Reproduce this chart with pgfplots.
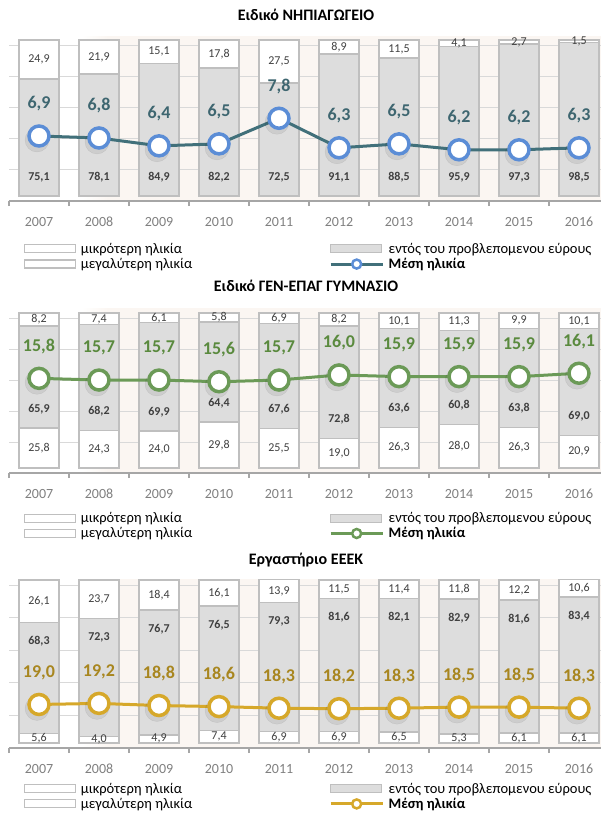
\documentclass[border=0pt]{standalone}
\usepackage{pgfplots}
\pgfplotsset{compat=1.18}
\usepackage{pgfplotstable}
\usepackage{fontspec}
\setmainfont{Carlito}

\definecolor{barfill}{HTML}{DDDDDD}
\definecolor{barline}{HTML}{BFBFBF}
\definecolor{gridc}{HTML}{D9D9D9}
\definecolor{axisc}{HTML}{A6A6A6}
\definecolor{yearc}{HTML}{7F7F7F}
\definecolor{lblc}{HTML}{404040}
\definecolor{beige}{HTML}{FBF6F2}
\definecolor{tealL}{HTML}{41707A}
\definecolor{tealM}{HTML}{5B8DD6}
\definecolor{tealT}{HTML}{3E6670}
\definecolor{grnL}{HTML}{6B9A57}
\definecolor{grnT}{HTML}{5A8A3E}
\definecolor{gldL}{HTML}{D6A82A}
\definecolor{gldT}{HTML}{A8861F}

\newcommand{\fs}[1]{\fontsize{#1bp}{#1bp}\selectfont}

% x: year index, b: bottom white, g: within range, t: top white, m: mean age
\pgfplotstableread{
x b g t m
0 0 75.1 24.9 6.9
1 0 78.1 21.9 6.8
2 0 84.9 15.1 6.4
3 0 82.2 17.8 6.5
4 0 72.5 27.5 7.8
5 0 91.1 8.9 6.3
6 0 88.5 11.5 6.5
7 0 95.9 4.1 6.2
8 0 97.3 2.7 6.2
9 0 98.5 1.5 6.3
}\tA
\pgfplotstableread{
x b g t m
0 25.8 65.9 8.2 15.8
1 24.3 68.2 7.4 15.7
2 24.0 69.9 6.1 15.7
3 29.8 64.4 5.8 15.6
4 25.5 67.6 6.9 15.7
5 19.0 72.8 8.2 16.0
6 26.3 63.6 10.1 15.9
7 28.0 60.8 11.3 15.9
8 26.3 63.8 9.9 15.9
9 20.9 69.0 10.1 16.1
}\tB
\pgfplotstableread{
x b g t m
0 5.6 68.3 26.1 19.0
1 4.0 72.3 23.7 19.2
2 4.9 76.7 18.4 18.8
3 7.4 76.5 16.1 18.6
4 6.9 79.3 13.9 18.3
5 6.9 81.6 11.5 18.2
6 6.5 82.1 11.4 18.3
7 5.3 82.9 11.8 18.5
8 6.1 81.6 12.2 18.5
9 6.1 83.4 10.6 18.3
}\tC

\pgfplotsset{
  /pgf/number format/.cd, use comma, fixed, fixed zerofill, precision=1, assume math mode=true,
  /pgfplots/.cd,
  myleg/.style={legend columns=1, legend cell align=left,
    legend style={draw=none, fill=none, inner sep=0pt, anchor=north west, font=\fs{14.5},
      nodes={inner sep=1.5bp}, row sep=0.5bp,
      /tikz/every odd column/.append style={column sep=3bp}}},
  panelbars/.style={
    scale only axis, width=600bp, clip=false,
    xmin=-0.5, xmax=9.5, ymin=-3.2, ymax=96.8,
    ybar stacked, bar width=40bp,
    axis x line*=bottom, axis y line*=left,
    y axis line style={draw=none},
    x axis line style={draw=axisc, line width=1.2bp, -},
    xtick={-0.5,0.5,...,9.5}, x tick label as interval,
    xticklabels={2007,2008,2009,2010,2011,2012,2013,2014,2015,2016},
    xticklabel style={font=\fs{14}, text=yearc, anchor=center, yshift=-16bp},
    xtick style={draw=axisc, line width=1.2bp},
    tick align=outside, major tick length=5bp,
    ytick={16.8,36.8,56.8,76.8,96.8}, yticklabels={}, ytick style={draw=none},
    ymajorgrids, major grid style={draw=gridc, line width=0.9bp},
    myleg,
  },
  lblax/.style={scale only axis, width=600bp, xmin=-0.5, xmax=9.5, ymin=-3.2, ymax=96.8,
    hide axis, clip=false},
  greybar/.style={fill=barfill, draw=barline, line width=1.5bp, forget plot},
  whitebar/.style={fill=white, draw=barline, line width=1.5bp, forget plot},
  seglbl/.style={draw=none, mark=none, nodes near coords, point meta=explicit,
    every node near coord/.append style={font=\fs{12}, text=lblc, anchor=center}},
  boldlbl/.style={draw=none, mark=none, nodes near coords, point meta=explicit,
    every node near coord/.append style={font=\bfseries\fs{12}, text=lblc, anchor=center, yshift=#1}},
  barleg/.style={legend image code/.code={\draw[##1] (0bp,-4bp) rectangle (51bp,4bp);}},
  lineleg/.style={legend image code/.code={%
    \draw[##1, mark=none] (0bp,0bp) -- (52bp,0bp);
    \draw[##1] plot coordinates {(26bp,0bp)};}},
  lineax/.style={scale only axis, width=600bp, xmin=-0.5, xmax=9.5, hide axis, clip=false, myleg},
  shadowplot/.style={only marks, mark=*, mark size=12bp, forget plot,
    mark options={draw=none, fill=black, opacity=0.07, xshift=-2bp, yshift=-4bp}},
  meanlbl/.style={nodes near coords, point meta=explicit, forget plot,
    every node near coord/.append style={font=\bfseries\fs{18}, text=#1, anchor=center, yshift=32bp}},
}

\begin{document}
\begin{tikzpicture}
\useasboundingbox (0,0) rectangle (601bp,-816bp);
% plot-area tint
\shade[left color=white, right color=beige] (82bp,-36bp) rectangle (108bp,-201bp);
\fill[beige] (108bp,-36bp) rectangle (601bp,-201bp);
\shade[left color=white, right color=beige] (82bp,-308bp) rectangle (108bp,-473bp);
\fill[beige] (108bp,-308bp) rectangle (601bp,-473bp);
\shade[left color=white, right color=beige] (82bp,-579bp) rectangle (108bp,-748bp);
\fill[beige] (108bp,-579bp) rectangle (601bp,-748bp);

\node[font=\bfseries\fs{16}, anchor=center] at (306bp,-15bp) {Ειδικό ΝΗΠΙΑΓΩΓΕΙΟ};
\node[font=\bfseries\fs{16}, anchor=center] at (306bp,-286bp) {Ειδικό ΓΕΝ-ΕΠΑΓ ΓΥΜΝΑΣΙΟ};
\node[font=\bfseries\fs{16}, anchor=center] at (306bp,-560bp) {Εργαστήριο ΕΕΕΚ};

% ---------------- Panel 1 ----------------
\begin{axis}[panelbars, at={(9bp,-201bp)}, anchor=south west, height=156bp,
  legend style={at={(axis description cs:0.025,-0.258)}}]
\addplot[greybar] table[x=x, y=g] {\tA};
\addplot[whitebar] table[x=x, y=t] {\tA};
\addlegendimage{barleg, fill=white, draw=barline, line width=1.2bp}
\addlegendentry{μικρότερη ηλικία}
\addlegendimage{barleg, fill=white, draw=barline, line width=1.2bp}
\addlegendentry{μεγαλύτερη ηλικία}
\end{axis}
\begin{axis}[lblax, at={(9bp,-201bp)}, anchor=south west, height=156bp]
\addplot[boldlbl=19bp] table[x=x, y=b, meta=g] {\tA};
\addplot[seglbl] table[x=x, y expr=\thisrow{b}+\thisrow{g}+\thisrow{t}/2, meta=t] {\tA};
\end{axis}
\begin{axis}[lineax, at={(9bp,-201bp)}, anchor=south west, height=156bp, ymin=3.6, ymax=11.52,
  legend style={at={(axis description cs:0.5333,-0.258)}}]
\addplot[shadowplot] table[x=x, y=m] {\tA};
\addplot[tealL, line width=3bp, mark=*, mark size=10bp,
  mark options={fill=white, draw=tealM, line width=3.5bp}, meanlbl=tealT]
  table[x=x, y=m, meta=m] {\tA};
\addlegendimage{barleg, fill=barfill, draw=barline, line width=1.2bp}
\addlegendentry{εντός του προβλεπομενου εύρους}
\addlegendimage{lineleg, draw=tealL, line width=3bp, mark=*, mark size=4.5bp, mark options={fill=white, draw=tealM, line width=2.5bp}}
\addlegendentry{\textbf{Μέση ηλικία}}
\end{axis}

% ---------------- Panel 2 ----------------
\begin{axis}[panelbars, at={(9bp,-473bp)}, anchor=south west, height=155bp,
  legend style={at={(axis description cs:0.025,-0.243)}}]
\addplot[whitebar] table[x=x, y=b] {\tB};
\addplot[greybar] table[x=x, y=g] {\tB};
\addplot[whitebar] table[x=x, y=t] {\tB};
\addlegendimage{barleg, fill=white, draw=barline, line width=1.2bp}
\addlegendentry{μικρότερη ηλικία}
\addlegendimage{barleg, fill=white, draw=barline, line width=1.2bp}
\addlegendentry{μεγαλύτερη ηλικία}
\end{axis}
\begin{axis}[lblax, at={(9bp,-473bp)}, anchor=south west, height=155bp]
\addplot[seglbl] table[x=x, y expr=\thisrow{b}/2, meta=b] {\tB};
\addplot[boldlbl=19bp] table[x=x, y=b, meta=g] {\tB};
\addplot[seglbl] table[x=x, y expr=\thisrow{b}+\thisrow{g}+\thisrow{t}/2, meta=t] {\tB};
\end{axis}
\begin{axis}[lineax, at={(9bp,-473bp)}, anchor=south west, height=155bp, ymin=10.23, ymax=19.35,
  legend style={at={(axis description cs:0.5333,-0.243)}}]
\addplot[shadowplot] table[x=x, y=m] {\tB};
\addplot[grnL, line width=3bp, mark=*, mark size=10bp,
  mark options={fill=white, draw=grnL, line width=3.5bp}, meanlbl=grnT]
  table[x=x, y=m, meta=m] {\tB};
\addlegendimage{barleg, fill=barfill, draw=barline, line width=1.2bp}
\addlegendentry{εντός του προβλεπομενου εύρους}
\addlegendimage{lineleg, draw=grnL, line width=3bp, mark=*, mark size=4.5bp, mark options={fill=white, draw=grnL, line width=2.5bp}}
\addlegendentry{\textbf{Μέση ηλικία}}
\end{axis}

% ---------------- Panel 3 ----------------
\begin{axis}[panelbars, at={(9bp,-748bp)}, anchor=south west, height=163bp,
  legend style={at={(axis description cs:0.025,-0.203)}}]
\addplot[whitebar] table[x=x, y=b] {\tC};
\addplot[greybar] table[x=x, y=g] {\tC};
\addplot[whitebar] table[x=x, y=t] {\tC};
\addlegendimage{barleg, fill=white, draw=barline, line width=1.2bp}
\addlegendentry{μικρότερη ηλικία}
\addlegendimage{barleg, fill=white, draw=barline, line width=1.2bp}
\addlegendentry{μεγαλύτερη ηλικία}
\end{axis}
\begin{axis}[lblax, at={(9bp,-748bp)}, anchor=south west, height=163bp]
\addplot[seglbl] table[x=x, y expr=\thisrow{b}/2, meta=b] {\tC};
\addplot[boldlbl=-19bp] table[x=x, y expr=\thisrow{b}+\thisrow{g}, meta=g] {\tC};
\addplot[seglbl] table[x=x, y expr=\thisrow{b}+\thisrow{g}+\thisrow{t}/2, meta=t] {\tC};
\end{axis}
\begin{axis}[lineax, at={(9bp,-748bp)}, anchor=south west, height=163bp, ymin=10.8, ymax=41.5,
  legend style={at={(axis description cs:0.5333,-0.203)}}]
\addplot[shadowplot] table[x=x, y=m] {\tC};
\addplot[gldL, line width=3bp, mark=*, mark size=10bp,
  mark options={fill=white, draw=gldL, line width=3.5bp}, meanlbl=gldT]
  table[x=x, y=m, meta=m] {\tC};
\addlegendimage{barleg, fill=barfill, draw=barline, line width=1.2bp}
\addlegendentry{εντός του προβλεπομενου εύρους}
\addlegendimage{lineleg, draw=gldL, line width=3bp, mark=*, mark size=4.5bp, mark options={fill=white, draw=gldL, line width=2.5bp}}
\addlegendentry{\textbf{Μέση ηλικία}}
\end{axis}
\end{tikzpicture}
\end{document}
